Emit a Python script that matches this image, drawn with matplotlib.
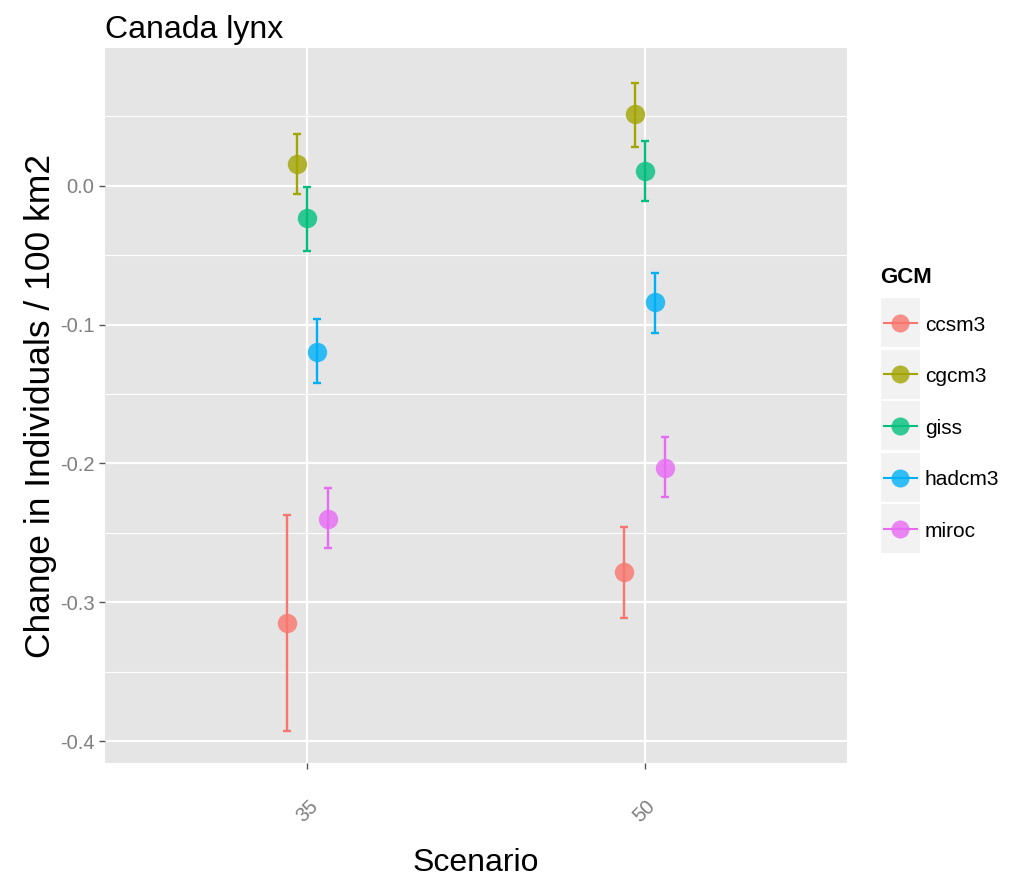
import matplotlib
matplotlib.use("Agg")
import matplotlib.pyplot as plt
from matplotlib.patches import Rectangle
import numpy as np

scenarios = ["35", "50"]
gcms = ["ccsm3", "cgcm3", "giss", "hadcm3", "miroc"]
colors = ["#F8766D", "#A3A500", "#00BF7D", "#00B0F6", "#E76BF3"]

# mean, lower, upper per GCM for each scenario
mean_35 = [-0.315, 0.016, -0.023, -0.120, -0.240]
low_35 = [-0.393, -0.006, -0.047, -0.142, -0.261]
high_35 = [-0.237, 0.037, -0.001, -0.096, -0.218]

mean_50 = [-0.278, 0.052, 0.011, -0.084, -0.203]
low_50 = [-0.311, 0.028, -0.011, -0.106, -0.224]
high_50 = [-0.246, 0.074, 0.032, -0.063, -0.181]

yticks = [0.0, -0.1, -0.2, -0.3, -0.4]

sans = ["Liberation Sans", "DejaVu Sans"]

W, H = 1015, 888
fig = plt.figure(figsize=(W / 100, H / 100), dpi=100)
ax = fig.add_axes([105 / W, 1 - 763 / H, (847 - 105) / W, (763 - 48) / H])
ax.set_facecolor("#E5E5E5")
for s in ax.spines.values():
    s.set_visible(False)

ax.set_xlim(0.4, 2.6)
ax.set_ylim(-0.4158, 0.0993)

# grid
ax.set_yticks(yticks)
ax.set_yticks([0.05, -0.05, -0.15, -0.25, -0.35], minor=True)
ax.set_xticks([1, 2])
ax.grid(which="major", color="white", linewidth=1.6)
ax.grid(which="minor", axis="y", color="white", linewidth=0.8)
ax.set_axisbelow(True)
ax.tick_params(which="minor", length=0)
ax.tick_params(which="major", length=4, width=1, color="#555555",
               labelsize=14.5, labelcolor="#7F7F7F")
ax.tick_params(axis="x", which="major", pad=20)
ax.set_yticklabels([f"{v:.1f}" for v in yticks], family=sans)
ax.set_xticklabels(scenarios, rotation=45, family=sans, ha="center", va="top")

means = [mean_35, mean_50]
lows = [low_35, low_50]
highs = [high_35, high_50]
offsets = np.linspace(-0.06, 0.06, len(gcms))
for si in range(len(scenarios)):
    for gi, g in enumerate(gcms):
        x = si + 1 + offsets[gi]
        m, lo, hi = means[si][gi], lows[si][gi], highs[si][gi]
        ax.errorbar([x], [m], yerr=[[m - lo], [hi - m]], fmt="none",
                    ecolor=colors[gi], elinewidth=1.7, capsize=2.8,
                    capthick=1.7, zorder=3)
        ax.plot([x], [m], "o", color=colors[gi], alpha=0.8,
                markersize=14, markeredgewidth=0, zorder=4)

ax.set_xlabel("Scenario", family=sans, fontsize=23, labelpad=16)
ax.set_ylabel("Change in Individuals / 100 km2", family=sans, fontsize=25.5,
              labelpad=2)
fig.text(105 / W, 1 - 30 / H, "Canada lynx", family=sans, fontsize=23,
         ha="left", va="center")

# legend drawn in pixel space
lax = fig.add_axes([0, 0, 1, 1])
lax.set_xlim(0, W)
lax.set_ylim(H, 0)
lax.axis("off")
lax.text(880, 277, "GCM", family=sans, fontsize=16, fontweight="bold",
         ha="left", va="center")
for gi, g in enumerate(gcms):
    y0 = 298 + gi * 51.5
    lax.add_patch(Rectangle((881, y0), 39, 49, facecolor="#F2F2F2",
                            edgecolor="none"))
    yc = y0 + 25
    lax.plot([884, 917], [yc, yc], color=colors[gi], linewidth=1.5)
    lax.plot([900.5], [yc], "o", color=colors[gi], alpha=0.8,
             markersize=13, markeredgewidth=0)
    lax.text(925, yc + 2, g, family=sans, fontsize=15, ha="left",
             va="center")

fig.savefig("out.png", dpi=100)
